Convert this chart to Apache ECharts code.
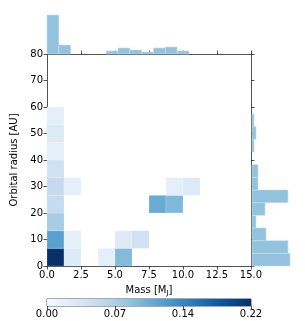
<!DOCTYPE html>
<html><head><meta charset="utf-8">
<script src="https://cdn.jsdelivr.net/npm/echarts@6/dist/echarts.min.js"></script>
<style>html,body{margin:0;padding:0;background:#fff}#c{width:305px;height:321px}</style>
</head><body><div id="c"></div><script>
// ---- 2D histogram (mass x orbital radius), 12 x 12 bins over [0,15] x [0,80]
const massBinWidth2D = 1.25;
const radiusBinWidth2D = 80 / 12;
const cellMassBin   = [0, 0, 0, 0, 0, 0, 0, 0, 0, 1, 1, 1, 3, 4, 4, 5, 6, 7, 7, 8];
const cellRadiusBin = [0, 1, 2, 3, 4, 5, 6, 7, 8, 0, 1, 4, 0, 0, 1, 1, 3, 3, 4, 4];
const cellDensity   = [0.22, 0.123, 0.077, 0.055, 0.056, 0.045, 0.021, 0.03, 0.021,
                       0.029, 0.02, 0.02, 0.02, 0.097, 0.028, 0.045, 0.112, 0.1, 0.02, 0.03];

// ---- marginal histograms
const massHistBinWidth = 0.87;
const massHistCounts = [39, 9, 0, 0, 0, 3, 6, 4, 2, 6, 7, 3];
const radiusHistBinWidth = 4.78;
const radiusHistCounts = [38, 36, 14, 4, 13, 36, 6, 6, 0, 2, 4, 2];

// ---- tick labels
const massTicks = ['0.0', '2.5', '5.0', '7.5', '10.0', '12.5', '15.0'];
const radiusTicks = ['0', '10', '20', '30', '40', '50', '60', '70', '80'];
const colorbarTicks = ['0.00', '0.07', '0.14', '0.22'];
const colorMax = 0.22;

const blues = ['#f7fbff', '#deebf7', '#c6dbef', '#9ecae1', '#6baed6', '#4292c6', '#2171b5', '#08519c', '#08306b'];
const FONT = 'DejaVu Sans';
const AX = '#262626';
const histFill = '#93c2df';
const histEdge = '#c4deee';

const cellData = cellDensity.map((v, i) => [cellMassBin[i] * massBinWidth2D, cellRadiusBin[i] * radiusBinWidth2D, v]);
const topData = massHistCounts.map((c, i) => [i * massHistBinWidth, (i + 1) * massHistBinWidth, c]).filter(d => d[2] > 0);
const rightData = radiusHistCounts.map((c, i) => [i * radiusHistBinWidth, (i + 1) * radiusHistBinWidth, c]).filter(d => d[2] > 0);

const chart = echarts.init(document.getElementById('c'), null, {renderer: 'canvas'});

function tickAxis(extra) {
  return Object.assign({
    type: 'value',
    axisLine: {show: true, onZero: false, lineStyle: {color: AX, width: 0.8}},
    axisTick: {show: true, inside: false, length: 3.5, lineStyle: {color: AX, width: 0.8}},
    splitLine: {show: false},
    axisLabel: {fontFamily: FONT, fontSize: 10, color: '#000', margin: 4}
  }, extra);
}

const option = {
  animation: false,
  backgroundColor: '#fff',
  textStyle: {fontFamily: FONT},
  grid: [
    {left: 47, top: 54, width: 204, height: 212},
    {left: 47, top: 13, width: 204, height: 41},
    {left: 252, top: 54, width: 40, height: 212},
    {left: 47, top: 299, width: 204, height: 7, show: true, borderColor: AX, borderWidth: 0.8}
  ],
  visualMap: {
    show: false, type: 'continuous', min: 0, max: colorMax, dimension: 2, seriesIndex: 0,
    inRange: {color: blues}
  },
  xAxis: [
    tickAxis({gridIndex: 0, position: 'bottom', min: 0, max: 15, interval: 2.5,
      axisLabel: {fontFamily: FONT, fontSize: 10, color: '#000', margin: 4,
        formatter: v => massTicks[Math.round(v / 2.5)]},
      name: 'Mass [M{sub|J}]', nameLocation: 'middle', nameGap: 18,
      nameTextStyle: {fontFamily: FONT, fontSize: 10, color: '#000',
        rich: {sub: {fontFamily: FONT, fontSize: 7, verticalAlign: 'bottom', padding: [6, 0, 0, 0]}}}}),
    tickAxis({gridIndex: 0, position: 'top', min: 0, max: 15, interval: 2.5, axisLabel: {show: false}}),
    {gridIndex: 1, type: 'value', min: 0, max: 15, show: false},
    {gridIndex: 2, type: 'value', min: 0, max: 40, show: false},
    tickAxis({gridIndex: 3, position: 'bottom', min: 0, max: colorMax, interval: colorMax / 3,
      axisLine: {show: false},
      axisLabel: {fontFamily: FONT, fontSize: 10, color: '#000', margin: 3,
        formatter: v => colorbarTicks[Math.round(v / (colorMax / 3))]}})
  ],
  yAxis: [
    tickAxis({gridIndex: 0, position: 'left', min: 0, max: 80, interval: 10,
      axisLabel: {fontFamily: FONT, fontSize: 10, color: '#000', margin: 4,
        formatter: v => radiusTicks[Math.round(v / 10)]},
      name: 'Orbital radius [AU]', nameLocation: 'middle', nameGap: 21,
      nameTextStyle: {fontFamily: FONT, fontSize: 10, color: '#000'}}),
    tickAxis({gridIndex: 0, position: 'right', min: 0, max: 80, interval: 10, axisLabel: {show: false}}),
    {gridIndex: 1, type: 'value', min: 0, max: 41, show: false},
    {gridIndex: 2, type: 'value', min: 0, max: 80, show: false},
    {gridIndex: 3, type: 'value', min: 0, max: 1, show: false}
  ],
  series: [
    {
      type: 'custom', xAxisIndex: 0, yAxisIndex: 0, data: cellData, z: 1,
      encode: {x: 0, y: 1},
      renderItem: (params, api) => {
        const x0 = api.value(0), y0 = api.value(1);
        const p0 = api.coord([x0, y0]);
        const p1 = api.coord([x0 + massBinWidth2D, y0 + radiusBinWidth2D]);
        return {type: 'rect', shape: {x: p0[0], y: p1[1], width: p1[0] - p0[0], height: p0[1] - p1[1]},
          style: {fill: api.visual('color'), stroke: 'rgba(255,255,255,0.35)', lineWidth: 0.5}};
      }
    },
    {
      type: 'custom', xAxisIndex: 2, yAxisIndex: 2, data: topData,
      encode: {x: [0, 1], y: 2},
      renderItem: (params, api) => {
        const p0 = api.coord([api.value(0), 0]);
        const p1 = api.coord([api.value(1), api.value(2)]);
        return {type: 'rect', shape: {x: p0[0], y: p1[1], width: p1[0] - p0[0], height: p0[1] - p1[1]},
          style: {fill: histFill, stroke: histEdge, lineWidth: 0.6}};
      }
    },
    {
      type: 'custom', xAxisIndex: 3, yAxisIndex: 3, data: rightData,
      encode: {y: [0, 1], x: 2},
      renderItem: (params, api) => {
        const p0 = api.coord([0, api.value(0)]);
        const p1 = api.coord([api.value(2), api.value(1)]);
        return {type: 'rect', shape: {x: p0[0], y: p1[1], width: p1[0] - p0[0], height: p0[1] - p1[1]},
          style: {fill: histFill, stroke: histEdge, lineWidth: 0.6}};
      }
    },
    {
      type: 'custom', xAxisIndex: 4, yAxisIndex: 4, data: [[0, colorMax]],
      encode: {x: [0, 1]},
      renderItem: (params, api) => {
        const p0 = api.coord([api.value(0), 0]);
        const p1 = api.coord([api.value(1), 1]);
        return {type: 'rect', shape: {x: p0[0], y: p1[1], width: p1[0] - p0[0], height: p0[1] - p1[1]},
          style: {fill: new echarts.graphic.LinearGradient(0, 0, 1, 0,
            blues.map((c, i) => ({offset: i / (blues.length - 1), color: c})))}};
      }
    }
  ]
};
chart.setOption(option);
</script></body></html>
